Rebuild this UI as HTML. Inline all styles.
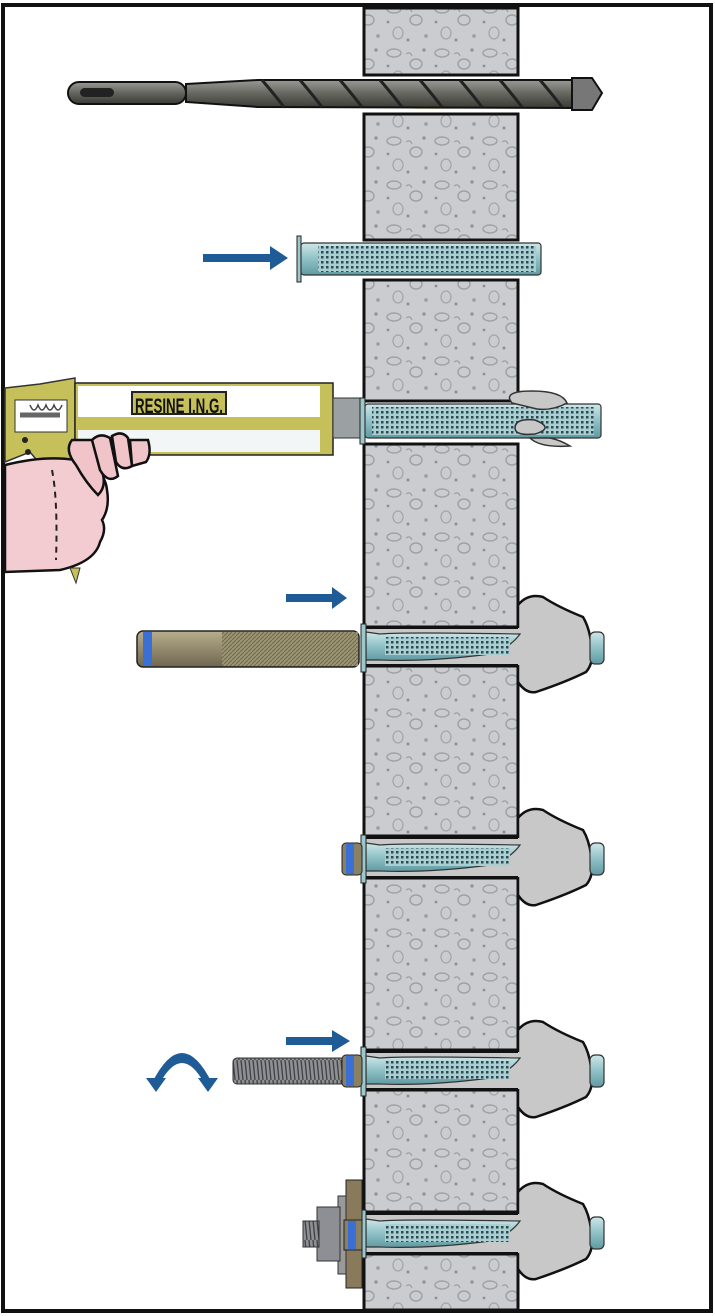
<!DOCTYPE html>
<html><head><meta charset="utf-8"><style>
html,body{margin:0;padding:0;background:#fff;}
svg{display:block;}
</style></head><body>
<svg width="715" height="1316" viewBox="0 0 715 1316" xmlns="http://www.w3.org/2000/svg">
<defs>
<pattern id="conc" width="48" height="44" patternUnits="userSpaceOnUse">
<rect width="48" height="44" fill="#cbcccf"/>
<ellipse cx="10" cy="9" rx="7" ry="4" fill="none" stroke="#9ca1a6" stroke-width="1.4"/>
<ellipse cx="32" cy="20" rx="6" ry="5" fill="none" stroke="#9ca1a6" stroke-width="1.4"/>
<ellipse cx="14" cy="33" rx="5" ry="6" fill="none" stroke="#a3a7ac" stroke-width="1.3"/>
<circle cx="40" cy="6" r="1.6" fill="#8a8f95"/>
<circle cx="24" cy="40" r="1.5" fill="#8a8f95"/>
<circle cx="4" cy="22" r="1.4" fill="#8a8f95"/>
<circle cx="42" cy="36" r="1.8" fill="#999ea3"/>
<path d="M22 10 q4 -3 6 2" fill="none" stroke="#9ca1a6" stroke-width="1.2"/>
</pattern>
<pattern id="mesh" width="5" height="5" patternUnits="userSpaceOnUse">
<rect width="5" height="5" fill="#a9cfd3"/>
<rect x="1" y="1" width="2.5" height="2.5" fill="#2e4a52"/>
</pattern>
<linearGradient id="sl" x1="0" y1="0" x2="0" y2="1">
<stop offset="0" stop-color="#cfe6e8"/><stop offset="0.5" stop-color="#8fc1c6"/><stop offset="1" stop-color="#5f9aa2"/>
</linearGradient>
<linearGradient id="drill" x1="0" y1="0" x2="0" y2="1">
<stop offset="0" stop-color="#9a9a94"/><stop offset="0.5" stop-color="#65655f"/><stop offset="1" stop-color="#3a3a36"/>
</linearGradient>
<linearGradient id="cap" x1="0" y1="0" x2="0" y2="1">
<stop offset="0" stop-color="#b8ae8c"/><stop offset="1" stop-color="#6e6650"/>
</linearGradient>
<pattern id="knurl" width="4" height="4" patternUnits="userSpaceOnUse">
<rect width="4" height="4" fill="#9a9472"/>
<path d="M0 4 L4 0" stroke="#6e6a50" stroke-width="1"/>
</pattern>
<pattern id="thread" width="4" height="20" patternUnits="userSpaceOnUse">
<rect width="4" height="20" fill="#8e8f93"/>
<line x1="1" y1="0" x2="3" y2="20" stroke="#3f4044" stroke-width="1.3"/>
</pattern>
</defs>

<rect x="3" y="5" width="708" height="1306" fill="none" stroke="#111" stroke-width="4"/>

<g fill="url(#conc)" stroke="#111" stroke-width="3">
<rect x="364" y="8" width="154" height="67"/>
<rect x="364" y="114" width="154" height="126"/>
<rect x="364" y="280" width="154" height="121"/>
<rect x="364" y="444" width="154" height="183"/>
<rect x="364" y="666" width="154" height="170"/>
<rect x="364" y="878" width="154" height="172"/>
<rect x="364" y="1090" width="154" height="122"/>
<rect x="364" y="1254" width="154" height="56"/>
</g>

<path d="M365 105 q60 8 150 0" fill="#efe6a8" stroke="none"/>
<rect x="68" y="82" width="118" height="22" rx="11" fill="url(#drill)" stroke="#111" stroke-width="2"/>
<rect x="80" y="88" width="34" height="9" rx="4.5" fill="#222"/>
<path d="M186 84 L258 80 L580 80 L600 93 L580 108 L258 107 L186 102 Z" fill="url(#drill)" stroke="#111" stroke-width="2"/>
<g stroke="#222" stroke-width="3" fill="none">
<path d="M262 80 q12 14 22 27"/><path d="M300 80 q12 14 22 27"/><path d="M340 80 q12 14 22 27"/>
<path d="M380 80 q12 14 22 27"/><path d="M420 80 q12 14 22 27"/><path d="M460 80 q12 14 22 27"/>
<path d="M500 80 q12 14 22 27"/><path d="M540 80 q12 14 22 27"/>
</g>
<path d="M572 78 L592 78 L602 93 L592 110 L572 110 Z" fill="#777" stroke="#111" stroke-width="2"/>

<path d="M203 254 L270 254 L270 246 L288 258 L270 270 L270 262 L203 262 Z" fill="#1f5b96"/>
<rect x="297" y="236" width="4" height="46" fill="#9cc7cb" stroke="#222" stroke-width="1"/>
<rect x="301" y="243" width="240" height="32" rx="3" fill="url(#sl)" stroke="#333" stroke-width="1.2"/>
<rect x="318" y="246" width="218" height="26" fill="url(#mesh)"/>

<path d="M5 388 L40 384 L75 378 L75 462 L45 470 L30 452 L5 462 Z" fill="#c5c05a" stroke="#333" stroke-width="1.5"/>
<rect x="15" y="400" width="52" height="32" fill="#fff" stroke="#333"/>
<path d="M20 415 L60 415" stroke="#666" stroke-width="5"/>
<path d="M30 405 q4 10 8 0 q4 10 8 0 q4 10 8 0 q4 10 8 0" stroke="#444" fill="none" stroke-width="1.5"/>
<circle cx="25" cy="440" r="3" fill="#222"/><circle cx="28" cy="452" r="3" fill="#222"/>
<rect x="75" y="383" width="258" height="72" fill="#c5c05a" stroke="#222" stroke-width="1.5"/>
<rect x="78" y="386" width="242" height="31" fill="#fff"/>
<rect x="78" y="430" width="242" height="22" fill="#f2f6f6"/>
<rect x="132" y="392" width="94" height="22" fill="#c5c05a" stroke="#222" stroke-width="2"/>
<text x="179" y="413" text-anchor="middle" font-family="Liberation Sans, sans-serif" font-weight="bold" font-size="21" fill="#111" textLength="88" lengthAdjust="spacingAndGlyphs">RESINE I.N.G.</text>
<rect x="333" y="398" width="28" height="40" fill="#9ba0a2" stroke="#333"/>
<rect x="360" y="398" width="5" height="46" fill="#9cc7cb" stroke="#222"/>
<rect x="365" y="404" width="236" height="34" rx="3" fill="url(#sl)" stroke="#333" stroke-width="1.2"/>
<rect x="372" y="407" width="222" height="28" fill="url(#mesh)"/>
<path d="M512 403 q-10 -12 20 -12 q30 0 35 12 q-15 8 -30 6 Z" fill="#c8c8c8" stroke="#333" stroke-width="1.5"/>
<path d="M515 428 q0 -10 20 -8 q20 8 0 14 q-20 2 -20 -6Z" fill="#c8c8c8" stroke="#333" stroke-width="1.5"/>
<path d="M530 438 q10 10 40 8 q-10 -6 -20 -8 Z" fill="#c8c8c8" stroke="#333" stroke-width="1.5"/>

<path d="M5 465 q40 -10 70 -5 q30 8 32 30 q3 18 -5 30 q5 10 -2 22 q-5 20 -40 28 L5 572 Z" fill="#f2ccd0" stroke="#111" stroke-width="2.5"/>
<path d="M52 470 q6 30 4 90" fill="none" stroke="#222" stroke-width="2" stroke-dasharray="6 5"/>
<path d="M72 440 q-8 10 4 25 q10 18 22 30 q8 -8 5 -20 q-6 -20 -6 -35 Z" fill="#f0c4c8" stroke="#111" stroke-width="2.5"/>
<path d="M92 440 q8 -8 18 -2 l8 38 q-10 8 -18 -6 Z" fill="#f0c4c8" stroke="#111" stroke-width="2.5"/>
<path d="M112 436 q10 -6 16 2 l4 28 q-10 6 -16 -4 Z" fill="#f0c4c8" stroke="#111" stroke-width="2.5"/>
<path d="M130 440 l18 0 q4 14 -2 22 l-14 4 Z" fill="#f0c4c8" stroke="#111" stroke-width="2.5"/>
<path d="M70 568 l6 15 l4 -15 Z" fill="#c5c05a" stroke="#333"/>

<g fill="#c8c8c8" stroke="#111" stroke-width="2.5">
<path d="M518 605 q10 -12 25 -8 q15 10 40 20 q6 10 8 25 q4 20 -5 30 q-20 10 -50 20 q-10 2 -18 -10 Z"/>
<path d="M518 818 q10 -12 25 -8 q15 10 40 20 q6 10 8 25 q4 20 -5 30 q-20 10 -50 20 q-10 2 -18 -10 Z"/>
<path d="M518 1030 q10 -12 25 -8 q15 10 40 20 q6 10 8 25 q4 20 -5 30 q-20 10 -50 20 q-10 2 -18 -10 Z"/>
<path d="M518 1192 q10 -12 25 -8 q15 10 40 20 q6 10 8 25 q4 20 -5 30 q-20 10 -50 20 q-10 2 -18 -10 Z"/>
</g>
<g fill="#c8c8c8">
<rect x="366" y="628" width="160" height="37"/>
<rect x="366" y="838" width="160" height="39"/>
<rect x="366" y="1052" width="160" height="37"/>
<rect x="366" y="1214" width="160" height="39"/>
</g>
<g fill="url(#sl)" stroke="#333" stroke-width="1.2">
<rect x="590" y="632" width="14" height="32" rx="5"/>
<rect x="590" y="843" width="14" height="32" rx="5"/>
<rect x="590" y="1055" width="14" height="32" rx="5"/>
<rect x="590" y="1217" width="14" height="32" rx="5"/>
</g>
<g stroke="#111" stroke-width="2">
<path d="M366 628 L518 628 M366 665 L518 665 M366 838 L518 838 M366 877 L518 877 M366 1052 L518 1052 M366 1089 L518 1089 M366 1214 L518 1214 M366 1253 L518 1253"/>
</g>
<g>
<path d="M366 632 L380 634 q20 -2 140 0 q-10 14 -30 20 q-60 8 -110 6 L366 660 Z" fill="url(#sl)" stroke="#333" stroke-width="1.2"/>
<rect x="385" y="637" width="125" height="18" fill="url(#mesh)"/>
<path d="M366 843 L380 845 q20 -2 140 0 q-10 14 -30 20 q-60 8 -110 6 L366 871 Z" fill="url(#sl)" stroke="#333" stroke-width="1.2"/>
<rect x="385" y="848" width="125" height="18" fill="url(#mesh)"/>
<path d="M366 1056 L380 1058 q20 -2 140 0 q-10 14 -30 20 q-60 8 -110 6 L366 1084 Z" fill="url(#sl)" stroke="#333" stroke-width="1.2"/>
<rect x="385" y="1061" width="125" height="18" fill="url(#mesh)"/>
<path d="M366 1219 L380 1221 q20 -2 140 0 q-10 14 -30 20 q-60 8 -110 6 L366 1247 Z" fill="url(#sl)" stroke="#333" stroke-width="1.2"/>
<rect x="385" y="1224" width="125" height="18" fill="url(#mesh)"/>
</g>
<g fill="#9cc7cb" stroke="#222" stroke-width="1">
<rect x="361" y="624" width="5" height="48"/>
<rect x="361" y="835" width="5" height="48"/>
<rect x="361" y="1047" width="5" height="49"/>
<rect x="361" y="1210" width="5" height="48"/>
</g>

<path d="M286 594 L332 594 L332 587 L347 598 L332 609 L332 602 L286 602 Z" fill="#1f5b96"/>
<rect x="137" y="631" width="222" height="36" rx="6" fill="url(#cap)" stroke="#222" stroke-width="1.5"/>
<rect x="222" y="632" width="136" height="34" fill="url(#knurl)"/>
<rect x="143" y="632" width="9" height="34" fill="#3a6fd6"/>

<rect x="342" y="843" width="20" height="32" rx="4" fill="#8a8062" stroke="#222"/>
<rect x="346" y="844" width="8" height="30" fill="#3a6fd6"/>

<path d="M286 1037 L332 1037 L332 1030 L350 1041 L332 1052 L332 1045 L286 1045 Z" fill="#1f5b96"/>
<path d="M152 1083 q30 -60 60 0 l-8 0 q-22 -40 -44 0 Z" fill="#1f5b96"/>
<path d="M146 1078 L166 1078 L156 1092 Z" fill="#1f5b96"/>
<path d="M198 1078 L218 1078 L208 1092 Z" fill="#1f5b96"/>
<rect x="233" y="1058" width="112" height="26" rx="4" fill="url(#thread)" stroke="#333"/>
<rect x="342" y="1055" width="20" height="32" rx="4" fill="#8a8062" stroke="#222"/>
<rect x="346" y="1056" width="8" height="30" fill="#3a6fd6"/>

<rect x="346" y="1180" width="16" height="108" fill="#8a7a5c" stroke="#222"/>
<rect x="338" y="1196" width="8" height="78" fill="#999" stroke="#333"/>
<rect x="317" y="1207" width="23" height="54" fill="#8d8f94" stroke="#333"/>
<rect x="303" y="1221" width="16" height="26" fill="url(#thread)" stroke="#333"/>
<rect x="344" y="1220" width="18" height="30" fill="#8a8062" stroke="#222"/>
<rect x="348" y="1221" width="8" height="28" fill="#3a6fd6"/>
</svg>
</body></html>
